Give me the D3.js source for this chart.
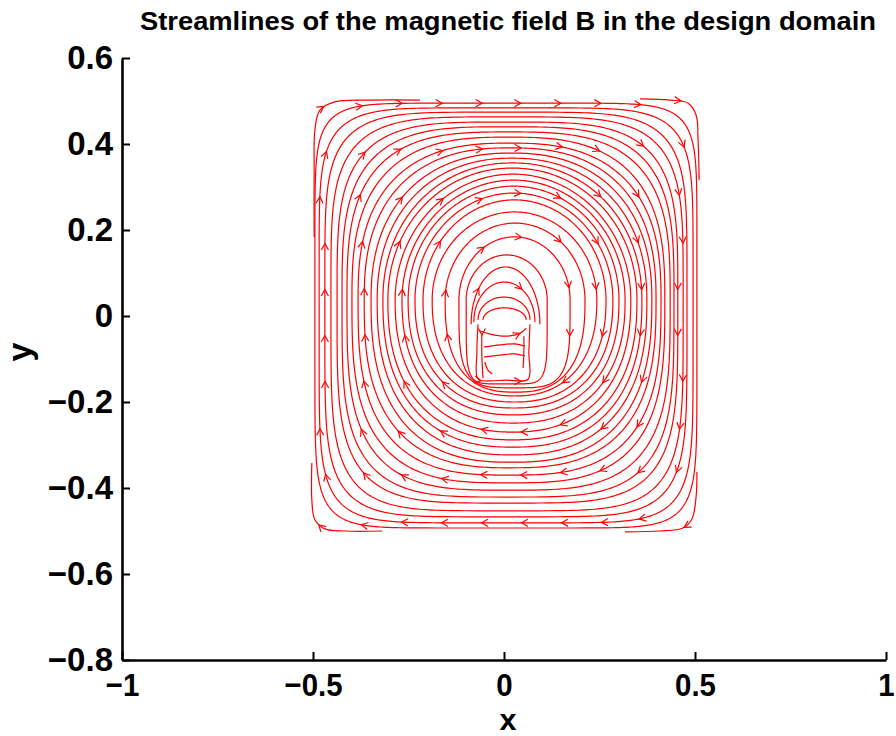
<!DOCTYPE html>
<html>
<head>
<meta charset="utf-8">
<script src="https://cdn.jsdelivr.net/npm/d3@7"></script>
<style>
  body { margin: 0; background: #fff; }
  svg { display: block; font-family: "Liberation Sans", Arial, Helvetica, sans-serif; font-weight: bold; }
</style>
</head>
<body>
<svg id="chart" width="896" height="736"></svg>
<script>
// axis ticks
var xTicks = [-1, -0.5, 0, 0.5, 1]
var yTicks = [-0.8, -0.6, -0.4, -0.2, 0, 0.2, 0.4, 0.6]

// closed field lines, outermost first (data units)
var loopLeft = [-0.495, -0.484, -0.469, -0.453, -0.437, -0.424, -0.411, -0.398, -0.382, -0.366,
  -0.348, -0.332, -0.317, -0.304, -0.285, -0.267, -0.251, -0.233, -0.212, -0.188]
var loopRight = [0.505, 0.495, 0.479, 0.469, 0.455, 0.445, 0.435, 0.421, 0.411, 0.398,
  0.387, 0.374, 0.361, 0.348, 0.332, 0.317, 0.301, 0.285, 0.267, 0.243]
var loopTop = [0.495, 0.484, 0.474, 0.463, 0.451, 0.440, 0.428, 0.416, 0.402, 0.391,
  0.379, 0.367, 0.356, 0.344, 0.330, 0.316, 0.302, 0.286, 0.270, 0.242]
var loopBottom = [-0.493, -0.481, -0.467, -0.453, -0.435, -0.421, -0.405, -0.388, -0.370, -0.353,
  -0.340, -0.323, -0.305, -0.288, -0.270, -0.249, -0.230, -0.214, -0.200, -0.186]
var loopSquareTop = [8, 6, 5, 4.3, 3.8, 3.4, 3.1, 2.8, 2.6, 2.45, 2.3, 2.2, 2.1, 2.05, 2, 2, 2, 2, 2, 2]
var loopSquareBottom = [8, 6.5, 5.5, 4.8, 4.2, 3.8, 3.4, 3.1, 2.9, 2.7, 2.55, 2.45, 2.4, 2.35, 2.3, 2.3, 2.3, 2.3, 2.3, 2.3]
var loopMidY = 0.037

// round inner loops that squeeze under the conductor
var ringLeft = [-0.154, -0.118, -0.099]
var ringRight = [0.212, 0.173, 0.113]
var ringTop = [0.216, 0.184, 0.142]
var ringBottom = [-0.177, -0.167, -0.158]
var ringSquareBottom = [2.6, 4, 6]

// domes over the conductor, ending on its top edge
var capLeft = [-0.086, -0.079, -0.068, -0.055]
var capRight = [0.094, 0.081, 0.068, 0.058]
var capTop = [0.114, 0.079, 0.044, 0.019]
var capBase = [-0.019, -0.014, -0.009, -0.009]

// broken outermost lines at the corners, in flow order
var cornerPieces = [
  [[-0.497, 0.184], [-0.497, 0.340], [-0.495, 0.433], [-0.482, 0.479], [-0.443, 0.498], [-0.351, 0.502], [-0.220, 0.502]],
  [[0.356, 0.505], [0.435, 0.502], [0.482, 0.495], [0.503, 0.467], [0.508, 0.409], [0.511, 0.316]],
  [[-0.319, -0.500], [-0.417, -0.500], [-0.469, -0.495], [-0.495, -0.474], [-0.503, -0.428], [-0.503, -0.342]],
  [[0.505, -0.363], [0.503, -0.419], [0.492, -0.472], [0.468, -0.493], [0.408, -0.500], [0.317, -0.502]]
]

// field lines inside the conductor
var holeLines = [
  [[-0.068, -0.019], [-0.071, -0.084], [-0.068, -0.147], [-0.037, -0.151], [0.003, -0.149], [0.063, -0.147], [0.065, -0.084], [0.068, -0.019]],
  [[-0.063, -0.035], [-0.037, -0.042], [0.003, -0.047], [0.042, -0.040], [0.058, -0.028]],
  [[-0.052, -0.072], [-0.010, -0.067], [0.029, -0.065], [0.055, -0.070]],
  [[-0.052, -0.095], [-0.010, -0.091], [0.029, -0.088], [0.055, -0.093]],
  [[-0.058, -0.042], [-0.058, -0.091], [-0.055, -0.144]],
  [[-0.050, -0.107], [-0.042, -0.126], [-0.031, -0.135]],
  [[0.052, -0.047], [0.052, -0.084], [0.050, -0.121]]
]

var svg = d3.select("#chart")

var x = d3.scaleLinear().domain([-1, 1]).range([122, 886])
var y = d3.scaleLinear().domain([-0.8, 0.6]).range([660, 58])

var line = d3.line()
  .x(function (d) { return x(d[0]) })
  .y(function (d) { return y(d[1]) })

// point on a superellipse, theta = 0 at top, increasing clockwise on screen
function superPoint(cx, cy, a, bTop, bBot, nTop, nBot, theta) {
  var s = Math.sin(theta), c = Math.cos(theta)
  var n = c >= 0 ? nTop : nBot
  var b = c >= 0 ? bTop : bBot
  return [cx + a * Math.sign(s) * Math.pow(Math.abs(s), 2 / n),
    cy + b * Math.sign(c) * Math.pow(Math.abs(c), 2 / n)]
}

function closedLoop(l, r, t, b, nTop, nBot) {
  var cx = (l + r) / 2, a = (r - l) / 2
  var pts = []
  for (var k = 0; k < 400; k++) {
    pts.push(superPoint(cx, loopMidY, a, t - loopMidY, loopMidY - b, nTop, nBot, k / 400 * 2 * Math.PI))
  }
  pts.push(pts[0])
  return pts
}

var lines = []

loopLeft.forEach(function (l, i) {
  lines.push({ pts: closedLoop(l, loopRight[i], loopTop[i], loopBottom[i], loopSquareTop[i], loopSquareBottom[i]), curve: d3.curveLinear })
})

ringLeft.forEach(function (l, i) {
  lines.push({ pts: closedLoop(l, ringRight[i], ringTop[i], ringBottom[i], 2, ringSquareBottom[i]), curve: d3.curveLinear })
})

capTop.forEach(function (t, i) {
  var cx = (capLeft[i] + capRight[i]) / 2, a = (capRight[i] - capLeft[i]) / 2
  var pts = []
  for (var k = 0; k <= 80; k++) {
    var th = -Math.PI / 2 + k / 80 * Math.PI
    pts.push(superPoint(cx, capBase[i], a, t - capBase[i], 0, 2, 2, th))
  }
  lines.push({ pts: pts, curve: d3.curveLinear })
})

cornerPieces.forEach(function (p) { lines.push({ pts: p, curve: d3.curveCatmullRom }) })
holeLines.forEach(function (p) { lines.push({ pts: p, curve: d3.curveCatmullRom }) })

var g = svg.append("g").attr("class", "streams")
var paths = g.selectAll("path.stream")
  .data(lines)
  .enter()
  .append("path")
  .attr("class", "stream")
  .attr("fill", "none")
  .attr("stroke", "#ff0000")
  .attr("stroke-width", 1.2)
  .attr("d", function (d) { return line.curve(d.curve)(d.pts) })

// arrow heads: one per grid cell, on the line nearest the cell centre
var samples = []
paths.each(function () {
  var len = this.getTotalLength()
  for (var s = 1; s < len - 1; s += 2) {
    var p = this.getPointAtLength(s)
    var p0 = this.getPointAtLength(s - 1)
    var p1 = this.getPointAtLength(s + 1)
    samples.push({ x: p.x, y: p.y, ang: Math.atan2(p1.y - p0.y, p1.x - p0.x) })
  }
})

var arrows = []
for (var i = 0; i < 10; i++) {
  for (var j = 0; j < 10; j++) {
    var gx = x(-0.475 + i * 0.104), gy = y(0.495 - j * 0.108)
    var best = null, bd = 1e9
    samples.forEach(function (s) {
      var d = (s.x - gx) * (s.x - gx) + (s.y - gy) * (s.y - gy)
      if (d < bd) { bd = d; best = s }
    })
    if (best && bd < 18 * 18) arrows.push(best)
  }
}

var armLen = 7.5, armAng = 0.5
g.selectAll("path.arrow")
  .data(arrows)
  .enter()
  .append("path")
  .attr("class", "arrow")
  .attr("fill", "none")
  .attr("stroke", "#ff0000")
  .attr("stroke-width", 1.2)
  .attr("d", function (d) {
    var a1 = d.ang + Math.PI - armAng, a2 = d.ang + Math.PI + armAng
    return "M" + (d.x + armLen * Math.cos(a1)) + "," + (d.y + armLen * Math.sin(a1)) +
      "L" + d.x + "," + d.y +
      "L" + (d.x + armLen * Math.cos(a2)) + "," + (d.y + armLen * Math.sin(a2))
  })

// axes
var fmt = d3.format("")
var xAxis = svg.append("g")
  .attr("transform", "translate(0,660)")
  .call(d3.axisBottom(x).tickValues(xTicks).tickFormat(fmt).tickSize(-8).tickSizeOuter(0).tickPadding(13))
var yAxis = svg.append("g")
  .attr("transform", "translate(122,0)")
  .call(d3.axisLeft(y).tickValues(yTicks).tickFormat(fmt).tickSize(-8).tickSizeOuter(0).tickPadding(9))

;[xAxis, yAxis].forEach(function (ax) {
  ax.select(".domain").attr("stroke", "#000").attr("stroke-width", 2.6)
  ax.selectAll(".tick line").attr("stroke", "#000").attr("stroke-width", 2)
  ax.selectAll(".tick text")
    .attr("fill", "#000")
    .style("font-family", "'Liberation Sans', Arial, sans-serif")
    .style("font-weight", "bold")
    .style("font-size", "33px")
})
xAxis.selectAll(".tick text").style("font-size", "32px")
// the x labels are set narrower than the y labels
xAxis.selectAll(".tick text").each(function () {
  var w = this.getComputedTextLength()
  d3.select(this).attr("textLength", w * 0.92).attr("lengthAdjust", "spacingAndGlyphs")
})

svg.append("text")
  .attr("x", 508)
  .attr("y", 30)
  .attr("text-anchor", "middle")
  .attr("textLength", 736)
  .attr("lengthAdjust", "spacingAndGlyphs")
  .style("font-size", "25px")
  .text("Streamlines of the magnetic field B in the design domain")

svg.append("text")
  .attr("x", 508)
  .attr("y", 729.5)
  .attr("text-anchor", "middle")
  .attr("textLength", 17)
  .attr("lengthAdjust", "spacingAndGlyphs")
  .style("font-size", "29px")
  .text("x")

svg.append("text")
  .attr("transform", "translate(31,352) rotate(-90)")
  .attr("text-anchor", "middle")
  .style("font-size", "34px")
  .text("y")
</script>
</body>
</html>
